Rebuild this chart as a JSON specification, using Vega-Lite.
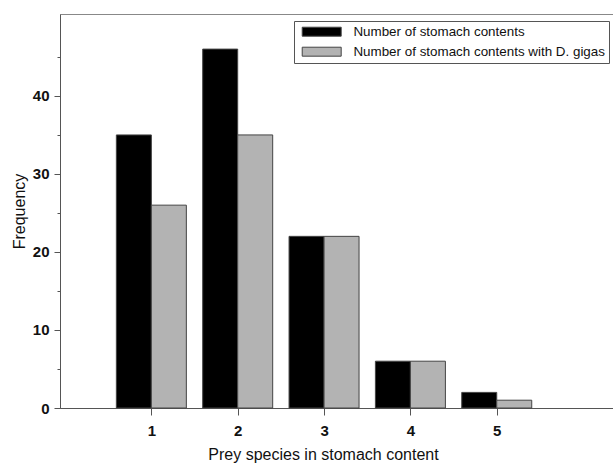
{
  "$schema": "https://vega.github.io/schema/vega-lite/v6.json",
  "autosize": "none",
  "padding": {"left": 60, "top": 14, "right": 0, "bottom": 56},
  "width": 554,
  "height": 394,
  "background": "white",
  "config": {
    "view": {"stroke": "#888888", "strokeWidth": 1},
    "font": "Liberation Sans"
  },
  "data": {
    "values": [
      {"species": 1, "series": "Number of stomach contents", "count": 35},
      {"species": 2, "series": "Number of stomach contents", "count": 46},
      {"species": 3, "series": "Number of stomach contents", "count": 22},
      {"species": 4, "series": "Number of stomach contents", "count": 6},
      {"species": 5, "series": "Number of stomach contents", "count": 2},
      {"species": 1, "series": "Number of stomach contents with D. gigas", "count": 26},
      {"species": 2, "series": "Number of stomach contents with D. gigas", "count": 35},
      {"species": 3, "series": "Number of stomach contents with D. gigas", "count": 22},
      {"species": 4, "series": "Number of stomach contents with D. gigas", "count": 6},
      {"species": 5, "series": "Number of stomach contents with D. gigas", "count": 1}
    ]
  },
  "encoding": {
    "x": {
      "field": "species",
      "type": "quantitative",
      "scale": {"domain": [0, 6.3], "nice": false, "zero": false},
      "axis": {
        "values": [1, 2, 3, 4, 5],
        "title": "Prey species in stomach content",
        "titleFont": "Liberation Sans",
        "titleFontSize": 16,
        "titleFontWeight": "normal",
        "titleColor": "#111111",
        "titlePadding": 8,
        "titleX": 263,
        "labelFont": "Liberation Sans",
        "labelFontSize": 15,
        "labelFontWeight": "bold",
        "labelColor": "#111111",
        "labelPadding": 8,
        "tickSize": 7,
        "tickColor": "#555555",
        "domainColor": "#555555",
        "grid": false
      }
    },
    "y": {
      "field": "count",
      "type": "quantitative",
      "scale": {"domain": [0, 50.5], "nice": false},
      "axis": {
        "values": [0, 5, 10, 15, 20, 25, 30, 35, 40, 45],
        "labelExpr": "datum.value % 10 === 0 ? datum.label : ''",
        "tickSize": {"condition": {"test": "datum.value % 10 === 0", "value": 6}, "value": 3},
        "title": "Frequency",
        "titleFont": "Liberation Sans",
        "titleFontSize": 16,
        "titleFontWeight": "normal",
        "titleColor": "#111111",
        "titlePadding": 5,
        "labelFont": "Liberation Sans",
        "labelFontSize": 15,
        "labelFontWeight": "bold",
        "labelColor": "#111111",
        "labelPadding": 5,
        "tickColor": "#555555",
        "domainColor": "#555555",
        "grid": false
      }
    },
    "color": {
      "field": "series",
      "type": "nominal",
      "scale": {
        "domain": ["Number of stomach contents", "Number of stomach contents with D. gigas"],
        "range": ["#000000", "#b3b3b3"]
      },
      "legend": {
        "title": null,
        "orient": "none",
        "legendX": 234,
        "legendY": 7,
        "direction": "vertical",
        "symbolType": "M-4,-0.92H4V0.92H-4Z",
        "symbolSize": 95,
        "symbolOffset": 17,
        "symbolStrokeColor": "#444444",
        "symbolStrokeWidth": 1,
        "labelFont": "Liberation Sans",
        "labelFontSize": 13.4,
        "labelColor": "#111111",
        "labelOffset": 25,
        "labelLimit": 400,
        "strokeColor": "#555555",
        "padding": 4,
        "rowPadding": 5,
        "fillColor": "white"
      }
    }
  },
  "layer": [
    {
      "transform": [{"filter": "datum.series === 'Number of stomach contents'"}],
      "mark": {"type": "bar", "width": 35, "xOffset": -17.5, "stroke": "#444444", "strokeWidth": 1}
    },
    {
      "transform": [{"filter": "datum.series === 'Number of stomach contents with D. gigas'"}],
      "mark": {"type": "bar", "width": 35, "xOffset": 17.5, "stroke": "#444444", "strokeWidth": 1}
    }
  ]
}
